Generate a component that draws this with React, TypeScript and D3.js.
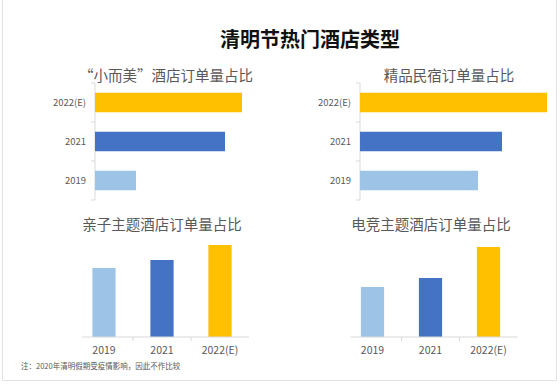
import React from "react";
import * as d3 from "d3";

const years = ["2019", "2021", "2022(E)"];
const colors = ["#9DC3E6", "#4472C4", "#FFC000"];

const smallBeautiful = [41, 130, 147];
const boutiqueHomestay = [118, 142, 187];
const familyTheme = [69, 77, 92];
const esportsTheme = [50, 59, 90];

const mainTitle = "清明节热门酒店类型";
const note = "注：2020年清明假期受疫情影响，因此不作比较";

const FONT = "'Noto Sans CJK SC', 'Noto Sans', sans-serif";
const TEXT = "#595959";
const AXIS = "#D9D9D9";

type HProps = { title: string; values: number[]; x0: number; titleX: number };

function HBarPanel({ title, values, x0, titleX }: HProps) {
  const order = [...years].reverse();
  const y = d3.scaleBand().domain(order).range([83, 200]).paddingInner(0.5).paddingOuter(0.25);
  const x = d3.scaleLinear().domain([0, 100]).range([x0, x0 + 100]);
  const ticks = [83, 122, 161, 200];
  return (
    <g>
      <text x={titleX} y={81} fontSize={14.5} fill={TEXT} textAnchor="middle" fontFamily={FONT}>{title}</text>
      <line x1={x0} x2={x0} y1={83} y2={200} stroke={AXIS} />
      {ticks.map((t) => (
        <line key={t} x1={x0 - 4} x2={x0} y1={t} y2={t} stroke={AXIS} />
      ))}
      {order.map((yr) => {
        const i = years.indexOf(yr);
        return (
          <g key={yr}>
            <rect x={x(0)} y={y(yr)!} width={x(values[i]) - x(0)} height={y.bandwidth()} fill={colors[i]} />
            <text x={x0 - 9} y={y(yr)! + y.bandwidth() / 2} dy="0.35em" fontSize={9.5} fill={TEXT} textAnchor="end" fontFamily={FONT}>{yr}</text>
          </g>
        );
      })}
    </g>
  );
}

type VProps = { title: string; values: number[]; x0: number; x1: number; titleX: number; maxV: number; maxPx: number };

function VBarPanel({ title, values, x0, x1, titleX, maxV, maxPx }: VProps) {
  const base = 337;
  const x = d3.scaleBand().domain(years).range([x0, x1]).paddingInner(0.6).paddingOuter(0.3);
  const y = d3.scaleLinear().domain([0, maxV]).range([base, base - maxPx]);
  const step = x.step();
  const edges = [1, 2].map((k) => x(years[k])! - x.bandwidth() * 0 - (step - x.bandwidth()) / 2);
  return (
    <g>
      <text x={titleX} y={230} fontSize={14.5} fill={TEXT} textAnchor="middle" fontFamily={FONT}>{title}</text>
      {years.map((yr, i) => (
        <g key={yr}>
          <rect x={x(yr)!} y={y(values[i])} width={x.bandwidth()} height={base - y(values[i])} fill={colors[i]} />
          <text x={x(yr)! + x.bandwidth() / 2} y={354} fontSize={10.5} fill={TEXT} textAnchor="middle" fontFamily={FONT}>{yr}</text>
        </g>
      ))}
      <line x1={x0 + 7} x2={x1} y1={base} y2={base} stroke={AXIS} />
      {edges.map((e) => (
        <line key={e} x1={e} x2={e} y1={base} y2={base + 4} stroke={AXIS} />
      ))}
    </g>
  );
}

export default function App() {
  return (
    <svg width={560} height={386} style={{ position: "absolute", left: 0, top: 0, background: "#fff" }}>
      <rect x={0} y={0} width={560} height={386} fill="#fff" />
      <line x1={2.5} x2={2.5} y1={0} y2={380.5} stroke="#E3E3E3" />
      <line x1={556.5} x2={556.5} y1={0} y2={380.5} stroke="#E3E3E3" />
      <line x1={2.5} x2={556.5} y1={380.5} y2={380.5} stroke="#E3E3E3" />
      <text x={310} y={47} fontSize={20} fontWeight="bold" fill="#111" textAnchor="middle" fontFamily={FONT}>{mainTitle}</text>
      <HBarPanel title="“小而美”酒店订单量占比" values={smallBeautiful} x0={95} titleX={166} />
      <HBarPanel title="精品民宿订单量占比" values={boutiqueHomestay} x0={360} titleX={449} />
      <VBarPanel title="亲子主题酒店订单量占比" values={familyTheme} x0={75} x1={249} titleX={162} maxV={92} maxPx={92} />
      <VBarPanel title="电竞主题酒店订单量占比" values={esportsTheme} x0={343.5} x1={517.5} titleX={431} maxV={90} maxPx={90} />
      <text x={21} y={369} fontSize={7.5} fill={TEXT} fontFamily={FONT}>{note}</text>
    </svg>
  );
}
